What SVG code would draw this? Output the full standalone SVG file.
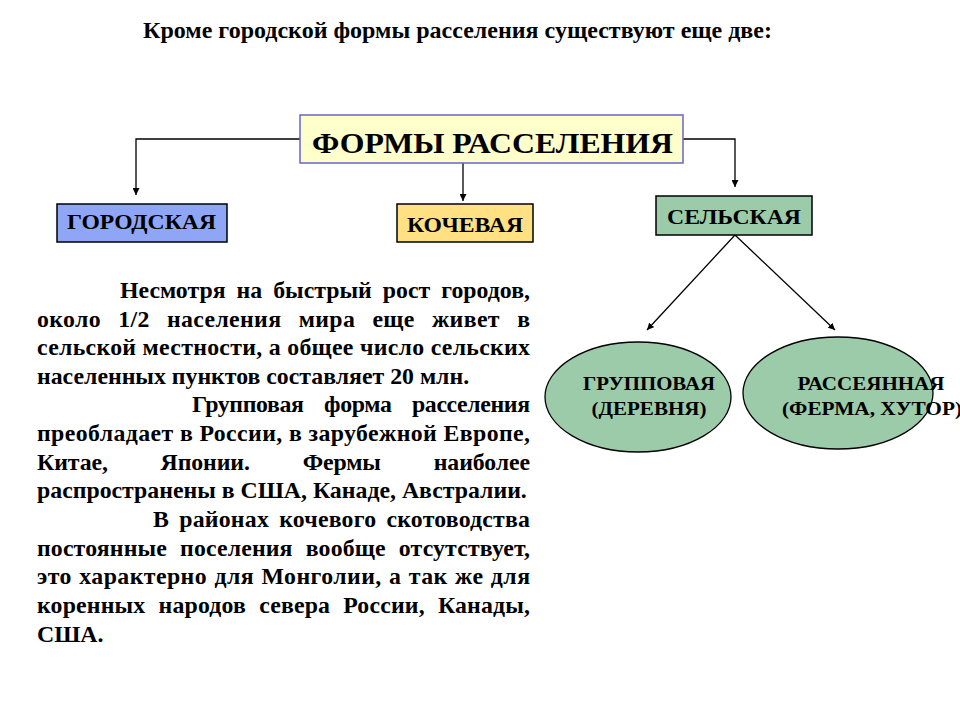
<svg xmlns="http://www.w3.org/2000/svg" width="960" height="720" viewBox="0 0 960 720">
<defs>
<style>
text{font-family:"Liberation Serif","Times New Roman",serif;font-weight:bold;fill:#000}
.lbl{font-size:20px}
.el{font-size:19.5px;text-anchor:middle}
.body text{font-size:23.8px}
.conn{fill:none;stroke:#000;stroke-width:1.3}
.box{stroke:#000;stroke-width:1.5}
</style>
<marker id="ah" viewBox="0 0 10 10" refX="10" refY="5" markerWidth="7" markerHeight="7" markerUnits="userSpaceOnUse" orient="auto">
<path d="M0,0 L10,5 L0,10 Z" fill="#000"/>
</marker>
</defs>
<rect width="960" height="720" fill="#fff"/>
<text x="143" y="38" font-size="23" textLength="629" lengthAdjust="spacingAndGlyphs">Кроме городской формы расселения существуют еще две:</text>

<g id="connectors">
<polyline class="conn" points="300,139 136,139 136,195" marker-end="url(#ah)"/>
<line class="conn" x1="463" y1="163" x2="463" y2="201" marker-end="url(#ah)"/>
<polyline class="conn" points="683,139 735,139 735,187" marker-end="url(#ah)"/>
<line class="conn" x1="735" y1="235" x2="647" y2="330" marker-end="url(#ah)"/>
<line class="conn" x1="735" y1="235" x2="835" y2="330" marker-end="url(#ah)"/>
</g>

<g id="main">
<rect x="300" y="115" width="383" height="48" fill="#FFFFCC" stroke="#6666CC" stroke-width="1.5"/>
<text x="312" y="153" font-size="30" textLength="361" lengthAdjust="spacingAndGlyphs">ФОРМЫ РАССЕЛЕНИЯ</text>
</g>

<g id="gorod">
<rect class="box" x="57" y="204" width="170" height="38" fill="#8FA6F7"/>
<text class="lbl" x="67" y="229" textLength="149" lengthAdjust="spacingAndGlyphs">ГОРОДСКАЯ</text>
</g>

<g id="kochev">
<rect class="box" x="397" y="204" width="136" height="38" fill="#FFE083"/>
<text class="lbl" x="407" y="232" textLength="116" lengthAdjust="spacingAndGlyphs">КОЧЕВАЯ</text>
</g>

<g id="selsk">
<rect class="box" x="656" y="196" width="156" height="39" fill="#9CCBAA"/>
<text class="lbl" x="667" y="224" textLength="134" lengthAdjust="spacingAndGlyphs">СЕЛЬСКАЯ</text>
</g>

<g id="grupp">
<ellipse cx="638" cy="397" rx="93" ry="55" fill="#9CCBAA" stroke="#000" stroke-width="1.3"/>
<text class="el" x="649" y="390" textLength="132" lengthAdjust="spacingAndGlyphs">ГРУППОВАЯ</text>
<text class="el" x="649" y="415" textLength="115" lengthAdjust="spacingAndGlyphs">(ДЕРЕВНЯ)</text>
</g>

<g id="rass">
<ellipse cx="838" cy="393" rx="95" ry="56" fill="#9CCBAA" stroke="#000" stroke-width="1.3"/>
<text class="el" x="871" y="390" textLength="147" lengthAdjust="spacingAndGlyphs">РАССЕЯННАЯ</text>
<text class="el" x="872" y="415" textLength="180" lengthAdjust="spacingAndGlyphs">(ФЕРМА, ХУТОР)</text>
</g>

<g id="bodytext" class="body">
<text x="120" y="298" word-spacing="5" textLength="410" lengthAdjust="spacing">Несмотря на быстрый рост городов,</text>
<text x="37" y="327" word-spacing="11" textLength="493" lengthAdjust="spacing">около 1/2 населения мира еще живет в</text>
<text x="37" y="355" textLength="493" lengthAdjust="spacing">сельской местности, а общее число сельских</text>
<text x="37" y="384">населенных пунктов составляет 20 млн.</text>
<text x="192" y="412" word-spacing="15" textLength="338" lengthAdjust="spacing">Групповая форма расселения</text>
<text x="37" y="441" textLength="493" lengthAdjust="spacing">преобладает в России, в зарубежной Европе,</text>
<text x="37" y="470" word-spacing="47" textLength="493" lengthAdjust="spacing">Китае, Японии. Фермы наиболее</text>
<text x="37" y="498">распространены в США, Канаде, Австралии.</text>
<text x="153" y="527" word-spacing="4" textLength="377" lengthAdjust="spacing">В районах кочевого скотоводства</text>
<text x="37" y="556" word-spacing="7" textLength="493" lengthAdjust="spacing">постоянные поселения вообще отсутствует,</text>
<text x="37" y="584" word-spacing="1" textLength="493" lengthAdjust="spacing">это характерно для Монголии, а так же для</text>
<text x="37" y="613" word-spacing="7" textLength="493" lengthAdjust="spacing">коренных народов севера России, Канады,</text>
<text x="37" y="642">США.</text>
</g>
</svg>
